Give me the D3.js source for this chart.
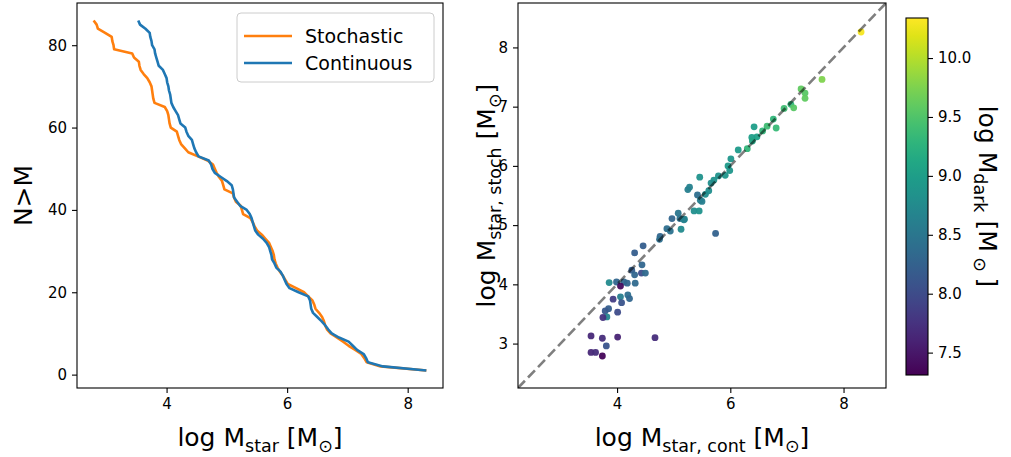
<!DOCTYPE html>
<html><head><meta charset="utf-8">
<script src="https://cdn.jsdelivr.net/npm/d3@7"></script>
<style>body{margin:0;background:#fff}svg{display:block;font-family:"DejaVu Sans",sans-serif}</style>
</head><body><svg id="c" width="1011" height="457"></svg>
<script>
// N>M cumulative curves: sorted masses (ascending), N runs from 86 down to 1
const stochSorted = [2.79,2.84,2.86,2.98,3.09,3.10,3.12,3.13,3.43,3.46,3.54,3.55,3.57,3.62,3.68,3.72,3.75,3.76,3.77,3.78,3.80,3.97,4.01,4.03,4.04,4.05,4.07,4.17,4.19,4.21,4.24,4.30,4.36,4.52,4.68,4.77,4.80,4.83,4.87,4.92,4.94,4.96,5.10,5.12,5.15,5.23,5.25,5.27,5.39,5.43,5.46,5.50,5.58,5.64,5.70,5.73,5.76,5.78,5.79,5.81,5.84,5.88,5.93,5.97,6.01,6.15,6.28,6.35,6.42,6.45,6.47,6.53,6.58,6.61,6.63,6.66,6.72,6.83,6.93,7.02,7.13,7.23,7.28,7.32,7.55,8.31];
const contSorted = [3.53,3.56,3.65,3.72,3.73,3.75,3.76,3.80,3.81,3.83,3.85,3.87,3.94,3.97,4.00,4.01,4.03,4.04,4.06,4.07,4.08,4.11,4.15,4.19,4.21,4.23,4.31,4.33,4.36,4.42,4.44,4.46,4.49,4.53,4.70,4.74,4.76,4.80,4.90,5.00,5.08,5.10,5.11,5.12,5.17,5.22,5.33,5.38,5.41,5.43,5.45,5.47,5.52,5.60,5.66,5.70,5.72,5.74,5.75,5.79,5.82,5.89,5.93,5.96,5.99,6.04,6.19,6.35,6.38,6.39,6.40,6.43,6.50,6.57,6.63,6.68,6.74,6.86,7.02,7.09,7.16,7.27,7.31,7.34,7.59,8.31];
const counts = [86,85,84,83,82,81,80,79,78,77,76,75,74,73,72,71,70,69,68,67,66,65,64,63,62,61,60,59,58,57,56,55,54,53,52,51,50,49,48,47,46,45,44,43,42,41,40,39,38,37,36,35,34,33,32,31,30,29,28,27,26,25,24,23,22,21,20,19,18,17,16,15,14,13,12,11,10,9,8,7,6,5,4,3,2,1];

// scatter: continuous vs stochastic, coloured by dark mass
const mCont  = [8.31,7.62,7.25,7.32,7.32,7.07,6.95,7.12,6.76,6.65,6.57,6.81,6.42,6.47,6.38,6.39,6.30,6.14,6.01,5.96,5.99,5.91,5.79,5.71,5.66,5.46,5.56,5.25,5.28,5.42,5.47,5.36,5.45,5.08,5.11,5.19,4.97,5.13,4.88,4.76,4.75,4.46,4.31,5.74,4.44,4.43,4.50,4.26,4.31,4.32,4.18,4.12,3.99,3.86,4.06,4.19,4.22,4.06,4.08,3.93,3.85,3.79,3.82,3.75,4.01,3.54,3.74,4.01,4.67,3.81,3.54,3.62,3.74,5.50,5.18,5.62,4.94];
const mStoch = [8.26,7.46,7.30,7.23,7.14,7.04,6.97,6.98,6.79,6.67,6.59,6.64,6.66,6.49,6.48,6.42,6.29,6.27,6.12,6.00,5.92,5.84,5.83,5.76,5.71,5.81,5.52,5.60,5.64,5.51,5.42,5.24,5.24,5.20,5.11,5.10,5.11,4.93,4.94,4.81,4.76,4.65,4.53,4.86,4.33,4.19,4.19,4.24,4.16,4.02,4.02,4.04,4.04,4.03,3.97,3.82,3.76,3.79,3.69,3.75,3.59,3.55,3.45,3.44,3.53,3.13,3.09,3.11,3.10,2.96,2.85,2.85,2.79,5.40,5.09,5.58,4.90];
const mDark  = [10.3,9.75,9.6,9.55,9.6,9.3,9.4,9.55,9.3,9.4,9.3,9.35,9.0,9.05,9.0,9.1,9.3,8.95,8.9,8.95,8.9,8.9,8.85,8.85,8.8,8.85,8.8,8.6,8.65,8.4,8.6,8.8,8.85,8.5,8.45,8.7,8.3,8.75,8.4,8.3,8.4,8.2,8.2,8.25,8.3,8.0,8.35,8.2,8.3,8.35,8.3,8.3,8.3,8.75,7.4,8.4,8.3,8.6,8.1,7.85,8.2,8.15,8.7,7.75,8.0,7.65,7.7,7.6,7.7,8.1,7.65,7.7,7.35,8.6,8.65,8.8,8.45];

const xTicksL = [4,6,8], yTicksL = [0,20,40,60,80];
const xTicksR = [4,6,8], yTicksR = [3,4,5,6,7,8];
const cTicks = [7.5,8.0,8.5,9.0,9.5,10.0];
const seriesNames = ["Stochastic","Continuous"];
const seriesColors = ["#ff7f0e","#1f77b4"];

const svg = d3.select("#c");
const FS = 15, LFS = 25;
const L = {x0:77,x1:443,y0:3,y1:388};
const R = {x0:518,x1:886,y0:3,y1:388};
const CB = {x0:906,x1:928,y0:18,y1:375};

function pad(ext, f){const r=ext[1]-ext[0];return [ext[0]-f*r, ext[1]+f*r];}
const xL = d3.scaleLinear(pad(d3.extent(stochSorted.concat(contSorted)),0.05),[L.x0,L.x1]);
const yL = d3.scaleLinear(pad(d3.extent(counts),0.05),[L.y1,L.y0]);
const xR = d3.scaleLinear([2.25,8.75],[R.x0,R.x1]);
const yR = d3.scaleLinear([2.25,8.75],[R.y1,R.y0]);
const cDom=[7.31,10.34];
const color = d3.scaleSequential(d3.interpolateViridis).domain(cDom);
const yC = d3.scaleLinear(cDom,[CB.y1,CB.y0]);

function axes(P, xs, ys, xt, yt){
  const gx = svg.append("g").attr("transform",`translate(0,${P.y1})`)
    .call(d3.axisBottom(xs).tickValues(xt).tickSize(5).tickPadding(5).tickFormat(d3.format("d")));
  const gy = svg.append("g").attr("transform",`translate(${P.x0},0)`)
    .call(d3.axisLeft(ys).tickValues(yt).tickSize(5).tickPadding(5).tickFormat(d3.format("d")));
  [gx,gy].forEach(a=>{a.select(".domain").remove();a.selectAll("text").attr("font-size",FS).attr("font-family","DejaVu Sans").attr("fill","#000");a.selectAll("line").attr("stroke","#000").attr("stroke-width",1.1);});
  svg.append("rect").attr("x",P.x0).attr("y",P.y0).attr("width",P.x1-P.x0).attr("height",P.y1-P.y0)
    .attr("fill","none").attr("stroke","#000").attr("stroke-width",1.1);
}

// left panel
svg.append("clipPath").attr("id","clipL").append("rect").attr("x",L.x0).attr("y",L.y0).attr("width",L.x1-L.x0).attr("height",L.y1-L.y0);
const line = d3.line().x(d=>xL(d[0])).y(d=>yL(d[1]));
[stochSorted,contSorted].forEach((arr,i)=>{
  svg.append("path").datum(arr.map((v,j)=>[v,counts[j]])).attr("d",line)
    .attr("fill","none").attr("stroke",seriesColors[i]).attr("stroke-width",2.6).attr("stroke-linejoin","round").attr("stroke-linecap","butt").attr("clip-path","url(#clipL)");
});
axes(L,xL,yL,xTicksL,yTicksL);

// legend
const lg = svg.append("g");
lg.append("rect").attr("x",237).attr("y",13).attr("width",197).attr("height",69).attr("rx",4)
  .attr("fill","#fff").attr("fill-opacity",0.8).attr("stroke","#cccccc").attr("stroke-width",1);
seriesNames.forEach((n,i)=>{
  const y=36+i*27;
  lg.append("line").attr("x1",244).attr("x2",292).attr("y1",y).attr("y2",y).attr("stroke",seriesColors[i]).attr("stroke-width",2.6);
  lg.append("text").attr("x",305).attr("y",y).attr("dy","0.36em").attr("font-size",19).text(n);
});

// right panel
svg.append("clipPath").attr("id","clipR").append("rect").attr("x",R.x0).attr("y",R.y0).attr("width",R.x1-R.x0).attr("height",R.y1-R.y0);
const pts = mCont.map((c,i)=>({c, s:mStoch[i], d:mDark[i]}));
svg.append("g").attr("clip-path","url(#clipR)").selectAll("circle").data(pts).join("circle")
  .attr("cx",d=>xR(d.c)).attr("cy",d=>yR(d.s)).attr("r",3.4).attr("fill",d=>color(d.d)).attr("fill-opacity",0.95);
svg.append("line").attr("x1",xR(2.25)).attr("y1",yR(2.25)).attr("x2",xR(8.75)).attr("y2",yR(8.75))
  .attr("stroke","#000").attr("stroke-opacity",0.5).attr("stroke-width",2.6).attr("stroke-dasharray","10,4.5").attr("clip-path","url(#clipR)");
axes(R,xR,yR,xTicksR,yTicksR);

// colorbar
const grad = svg.append("defs").append("linearGradient").attr("id","vir").attr("x1",0).attr("y1",1).attr("x2",0).attr("y2",0);
d3.range(0,1.0001,0.05).forEach(t=>grad.append("stop").attr("offset",t).attr("stop-color",d3.interpolateViridis(t)));
svg.append("rect").attr("x",CB.x0).attr("y",CB.y0).attr("width",CB.x1-CB.x0).attr("height",CB.y1-CB.y0)
  .attr("fill","url(#vir)").attr("stroke","#000").attr("stroke-width",1.1);
const gc = svg.append("g").attr("transform",`translate(${CB.x1},0)`)
  .call(d3.axisRight(yC).tickValues(cTicks).tickSize(5).tickPadding(5).tickFormat(d3.format(".1f")));
gc.select(".domain").remove();
gc.selectAll("text").attr("font-size",FS).attr("font-family","DejaVu Sans").attr("fill","#000");
gc.selectAll("line").attr("stroke","#000").attr("stroke-width",1.1);

// labels
function label(x,y,rot,parts,fs){
  const t = svg.append("text").attr("transform",`translate(${x},${y}) rotate(${rot})`).attr("text-anchor","middle").attr("font-size",fs);
  let sub=false;
  parts.forEach(p=>{
    const isSub = p[1];
    const ts = t.append("tspan").text(p[0]);
    if(isSub){ts.attr("font-size",fs*0.7); if(!sub) ts.attr("dy",fs*0.22);} else if(sub) ts.attr("dy",-fs*0.22);
    sub=isSub;
  });
}
label((L.x0+L.x1)/2, 446, 0, [["log M",false],["star",true],[" [M",false],["⊙",true],["]",false]], LFS);
label((R.x0+R.x1)/2, 446, 0, [["log M",false],["star, cont",true],[" [M",false],["⊙",true],["]",false]], LFS);
label(32, (L.y0+L.y1)/2, -90, [["N>M",false]], LFS);
label(495, (R.y0+R.y1)/2, -90, [["log M",false],["star, stoch",true],[" [M",false],["⊙",true],["]",false]], LFS);
label(979, (CB.y0+CB.y1)/2, 90, [["log M",false],["dark",true],[" [M",false],[" ⊙ ",true],["]",false]], LFS);
</script></body></html>
